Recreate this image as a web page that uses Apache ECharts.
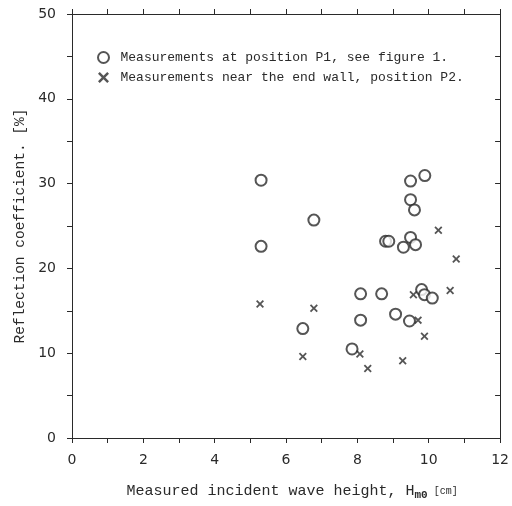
<!DOCTYPE html>
<html>
<head>
<meta charset="utf-8">
<script src="https://cdn.jsdelivr.net/npm/echarts@6/dist/echarts.min.js"></script>
<style>html,body{margin:0;padding:0;background:#fff;}#c{width:512px;height:506px;}</style>
</head>
<body>
<div id="c"></div>
<script>
// P1 measurements (circles)
const p1X = [5.3, 5.3, 6.78, 6.47, 7.85, 8.09, 8.09, 8.68, 8.79, 8.88, 9.29, 9.49, 9.63, 9.49, 9.89, 9.49, 9.6, 9.07, 9.46, 9.8, 9.88, 10.1];
const p1Y = [30.4, 22.6, 25.7, 12.9, 10.5, 17.0, 13.9, 17.0, 23.2, 23.2, 22.5, 23.65, 22.8, 30.3, 30.95, 28.1, 26.9, 14.6, 13.8, 17.5, 16.9, 16.5];
// P2 measurements (crosses)
const p2X = [5.27, 6.47, 6.78, 8.07, 8.29, 9.27, 9.57, 9.7, 9.88, 10.27, 10.6, 10.77];
const p2Y = [15.8, 9.6, 15.3, 9.9, 8.2, 9.1, 16.9, 13.9, 12.0, 24.5, 17.4, 21.1];
const xTickLabels = ['0', '', '2', '', '4', '', '6', '', '8', '', '10', '', '12'];
const yTickLabels = ['0', '', '10', '', '20', '', '30', '', '40', '', '50'];
const legendNames = ['Measurements at position P1, see figure 1.', 'Measurements near the end wall, position P2.'];

const ink = '#2a2a2a';
const font = 'DejaVu Sans';
const mono = 'Liberation Mono';
const crossPath = 'path://M0,1.6L1.6,0L5,3.4L8.4,0L10,1.6L6.6,5L10,8.4L8.4,10L5,6.6L1.6,10L0,8.4L3.4,5Z';

const chart = echarts.init(document.getElementById('c'));
chart.setOption({
  animation: false,
  backgroundColor: '#fff',
  grid: {left: 72, right: 10, top: 14, bottom: 65},
  legend: {
    orient: 'vertical', left: 92, top: 46, itemGap: 7, itemWidth: 12, itemHeight: 11,
    textStyle: {fontFamily: mono, fontSize: 13, color: ink, padding: [0, 0, 0, 6]},
    data: legendNames
  },
  xAxis: [{
    type: 'value', min: 0, max: 12, interval: 1, position: 'bottom',
    name: '{a|Measured incident wave height, H}{s|m0}{c| [cm]}',
    nameLocation: 'middle', nameGap: 44,
    nameTextStyle: {padding: [0, 0, 0, 12], rich: {
      a: {fontFamily: mono, fontSize: 15, color: ink},
      s: {fontFamily: mono, fontSize: 11, color: ink, fontWeight: 'bold', verticalAlign: 'bottom', padding: [8, 0, 0, 0]},
      c: {fontFamily: mono, fontSize: 10, color: ink}
    }},
    axisLine: {show: true, onZero: false, lineStyle: {color: ink, width: 1}},
    axisTick: {show: true, inside: false, length: 5, lineStyle: {color: ink}},
    axisLabel: {margin: 15, fontFamily: font, fontSize: 14, color: ink,
      formatter: v => xTickLabels[Math.round(v)] || ''},
    splitLine: {show: false}
  }, {
    type: 'value', min: 0, max: 12, interval: 1, position: 'top',
    axisLine: {show: true, onZero: false, lineStyle: {color: ink, width: 1}},
    axisTick: {show: true, inside: false, length: 5, lineStyle: {color: ink}},
    axisLabel: {show: false}, splitLine: {show: false}
  }],
  yAxis: [{
    type: 'value', min: 0, max: 50, interval: 5, position: 'left',
    name: 'Reflection coefficient. [%]',
    nameLocation: 'middle', nameGap: 42, nameRotate: 90,
    nameTextStyle: {fontFamily: mono, fontSize: 14.5, color: ink},
    axisLine: {show: true, onZero: false, lineStyle: {color: ink, width: 1}},
    axisTick: {show: true, inside: false, length: 5, lineStyle: {color: ink}},
    axisLabel: {margin: 16, fontFamily: font, fontSize: 14, color: ink,
      formatter: v => yTickLabels[Math.round(v / 5)] || ''},
    splitLine: {show: false}
  }, {
    type: 'value', min: 0, max: 50, interval: 5, position: 'right',
    axisLine: {show: true, onZero: false, lineStyle: {color: ink, width: 1}},
    axisTick: {show: true, inside: true, length: 5, lineStyle: {color: ink}},
    axisLabel: {show: false}, splitLine: {show: false}
  }],
  series: [{
    name: legendNames[0], type: 'scatter', xAxisIndex: 0, yAxisIndex: 0,
    symbol: 'emptyCircle', symbolSize: 11,
    itemStyle: {color: ink, borderColor: ink, borderWidth: 1.1},
    data: p1X.map((x, i) => [x, p1Y[i]])
  }, {
    name: legendNames[1], type: 'scatter', xAxisIndex: 0, yAxisIndex: 0,
    symbol: crossPath, symbolSize: 8,
    itemStyle: {color: ink},
    data: p2X.map((x, i) => [x, p2Y[i]])
  }]
});
</script>
</body>
</html>
